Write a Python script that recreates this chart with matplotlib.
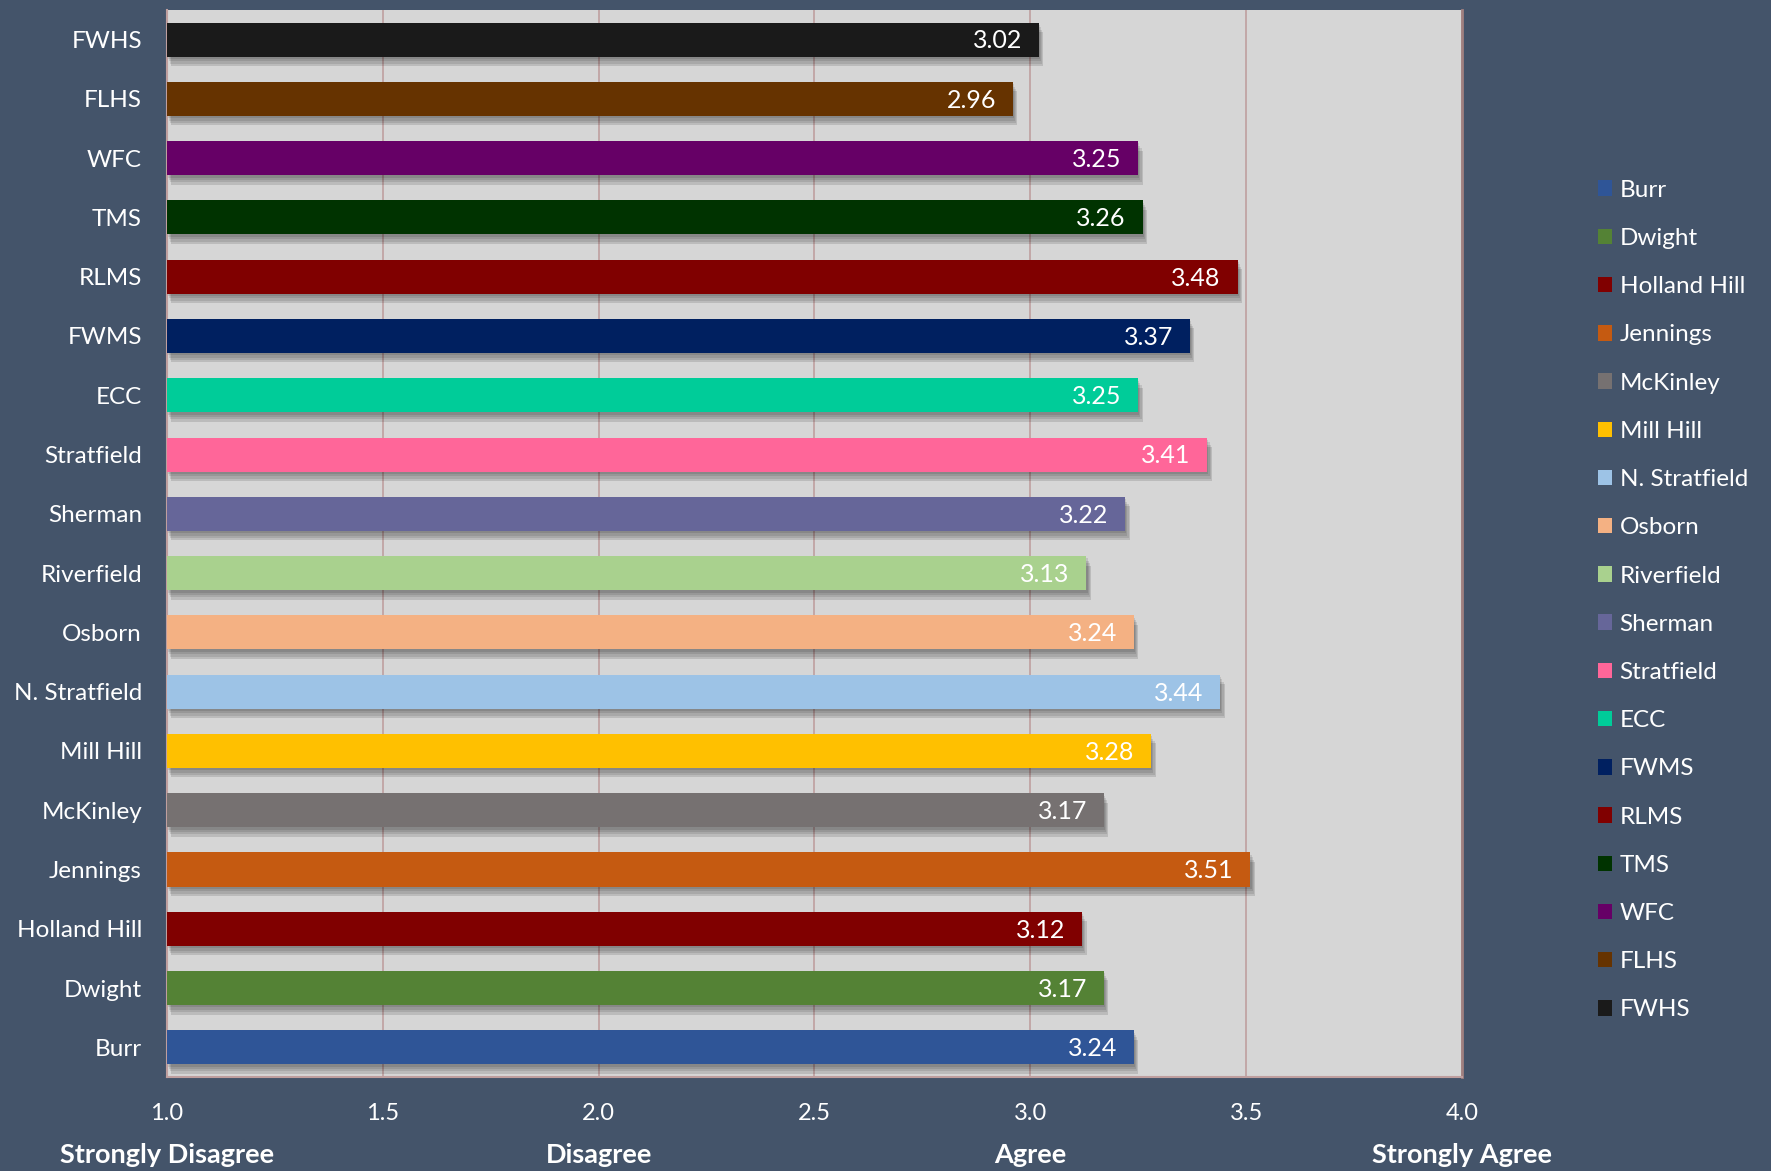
import matplotlib
matplotlib.use("Agg")
import matplotlib.pyplot as plt
from matplotlib.patches import Patch
from matplotlib.transforms import ScaledTranslation, blended_transform_factory

schools = ["Burr", "Dwight", "Holland Hill", "Jennings", "McKinley", "Mill Hill",
           "N. Stratfield", "Osborn", "Riverfield", "Sherman", "Stratfield", "ECC",
           "FWMS", "RLMS", "TMS", "WFC", "FLHS", "FWHS"]
scores = [3.24, 3.17, 3.12, 3.51, 3.17, 3.28, 3.44, 3.24, 3.13, 3.22, 3.41, 3.25,
          3.37, 3.48, 3.26, 3.25, 2.96, 3.02]
colors = ["#2f5597", "#548235", "#800000", "#c55a11", "#767171", "#ffc000",
          "#9dc3e6", "#f4b183", "#a9d18e", "#666699", "#ff6699", "#00cc99",
          "#002060", "#800000", "#003300", "#660066", "#663300", "#1a1a1a"]
xticks = [1.0, 1.5, 2.0, 2.5, 3.0, 3.5, 4.0]
scale_labels = ["Strongly Disagree", "Disagree", "Agree", "Strongly Agree"]
scale_pos = [1.0, 2.0, 3.0, 4.0]

FONT = ["Lato", "DejaVu Sans"]
plt.rcParams["font.family"] = FONT
BG = "#44546a"
GRID = "#bf9f9f"

fig = plt.figure(figsize=(17.71, 11.71), dpi=100, facecolor=BG)
ax = fig.add_axes([0.0943, 0.0803, 0.7312, 0.9112])
ax.set_facecolor("#d6d6d6")

ypos = list(range(len(schools)))
bh = 0.575
base = 1.0
widths = [s - base for s in scores]

# soft drop shadow
for k, a in enumerate([0.10, 0.10, 0.10, 0.12]):
    dx = (k + 1) * 0.8 / 72
    dy = -(k + 1) * 1.7 / 72
    tr = ax.transData + ScaledTranslation(dx, dy, fig.dpi_scale_trans)
    ax.barh(ypos, widths, left=base, height=bh, color="black", alpha=a,
            transform=tr, zorder=2, linewidth=0)

bars = ax.barh(ypos, widths, left=base, height=bh, color=colors, zorder=3,
               linewidth=0)

for y, s in zip(ypos, scores):
    ax.annotate(f"{s:.2f}", xy=(s, y), xytext=(-12, -1), textcoords="offset points",
                ha="right", va="center", color="white", fontsize=18, zorder=4)

ax.set_xlim(1.0, 4.0)
ax.set_ylim(-0.5, len(schools) - 0.5)
ax.set_xticks(xticks)
ax.set_xticklabels([f"{t:.1f}" for t in xticks], color="white", fontsize=17)
ax.set_yticks(ypos)
ax.set_yticklabels(schools, color="white", fontsize=17.5)
ax.tick_params(axis="both", length=0)
ax.tick_params(axis="x", pad=19)
ax.tick_params(axis="y", pad=18)
ax.xaxis.grid(True, color=GRID, linewidth=1.2, zorder=1)
ax.set_axisbelow(True)
ax.spines["top"].set_visible(False)
ax.spines["left"].set_color(GRID)
ax.spines["bottom"].set_color(GRID)
ax.spines["right"].set_color("#a08080")
ax.spines["left"].set_linewidth(1.5)
ax.spines["bottom"].set_linewidth(1.5)
ax.spines["right"].set_linewidth(2)

trans = blended_transform_factory(ax.transData, fig.transFigure)
for lab, p in zip(scale_labels, scale_pos):
    fig.text(p, 1 - 1155 / 1171, lab, transform=trans, ha="center", va="center",
             color="white", fontsize=19.5, fontweight="bold")

handles = [Patch(facecolor=c, edgecolor="none") for c in colors]
leg = fig.legend(handles, schools, loc="upper left",
                 bbox_to_anchor=(1588 / 1771, 1 - 170 / 1171),
                 frameon=False, fontsize=17.5, labelcolor="white",
                 handlelength=0.6, handleheight=0.6, handletextpad=0.3,
                 labelspacing=1.12, borderaxespad=0)

fig.savefig("out.png", dpi=100, facecolor=BG)
